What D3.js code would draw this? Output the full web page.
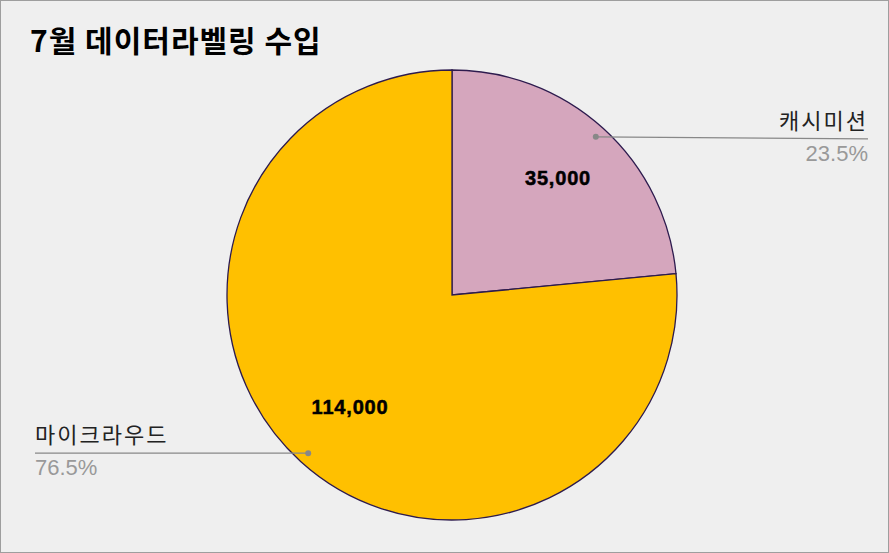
<!DOCTYPE html>
<html><head><meta charset="utf-8">
<script src="https://cdn.jsdelivr.net/npm/d3@7"></script>
<style>body{margin:0;background:#fff}svg{display:block}</style>
</head><body><svg id="c" width="889" height="553"></svg>
<script>
const categories = ["캐시미션", "마이크라우드"];
const values = [35000, 114000];
const percents = ["23.5%", "76.5%"];
const colors = ["#d5a6bd", "#ffc000"];

const svg = d3.select("#c");
svg.append("rect").attr("x",0.5).attr("y",0.5).attr("width",888).attr("height",552)
  .attr("fill","#efefef").attr("stroke","#9e9e9e");
svg.append("text").attr("x",30).attr("y",52).text("7월 데이터라벨링 수입")
  .attr("font-family","Noto Sans CJK KR, sans-serif").attr("font-weight","bold").attr("font-size",30).attr("letter-spacing",1).attr("fill","#000");

const cx=452, cy=295, r=225;
const pie = d3.pie().sort(null)(values);
const arc = d3.arc().innerRadius(0).outerRadius(r);
const g = svg.append("g").attr("transform",`translate(${cx},${cy})`);
g.selectAll("path").data(pie).join("path").attr("d",arc)
  .attr("fill",(d,i)=>colors[i]).attr("stroke","#2d1b4e").attr("stroke-width",1.3);
const fmt = d3.format(",");
const valPos=[[558,185],[350,414]];
g.selectAll("text.v").data(pie).join("text")
  .attr("x",(d,i)=>valPos[i][0]-cx).attr("y",(d,i)=>valPos[i][1]-cy)
  .attr("text-anchor","middle").attr("font-family","Liberation Sans, Arial, sans-serif")
  .attr("font-weight","bold").attr("font-size",20).attr("letter-spacing",0.8)
  .attr("stroke","#000").attr("stroke-width",0.5).text(d=>fmt(d.data));

const outer = d3.arc().innerRadius(r*0.95).outerRadius(r*0.95);
const leaders=[{x2:868,anchor:"end"},{x2:35,anchor:"start"}];
pie.forEach((d,i)=>{
  const [px,py]=outer.centroid(d);
  const x=px+cx,y=py+cy;
  const L=leaders[i];
  const ly = i==0 ? y+2 : y;
  svg.append("line").attr("x1",x).attr("y1",y).attr("x2",L.x2).attr("y2",ly)
    .attr("stroke","#888").attr("stroke-width",1.3);
  svg.append("circle").attr("cx",x).attr("cy",y).attr("r",3).attr("fill","#888");
  svg.append("text").attr("x",L.x2).attr("y",ly-10).attr("text-anchor",L.anchor)
    .attr("font-family","Noto Sans CJK KR, sans-serif").attr("font-size",22).attr("letter-spacing",2).attr("fill","#222").text(categories[i]);
  svg.append("text").attr("x",L.x2).attr("y",ly+22).attr("text-anchor",L.anchor)
    .attr("font-family","Liberation Sans, Arial, sans-serif").attr("font-size",22).attr("fill","#999").text(percents[i]);
});
</script></body></html>
